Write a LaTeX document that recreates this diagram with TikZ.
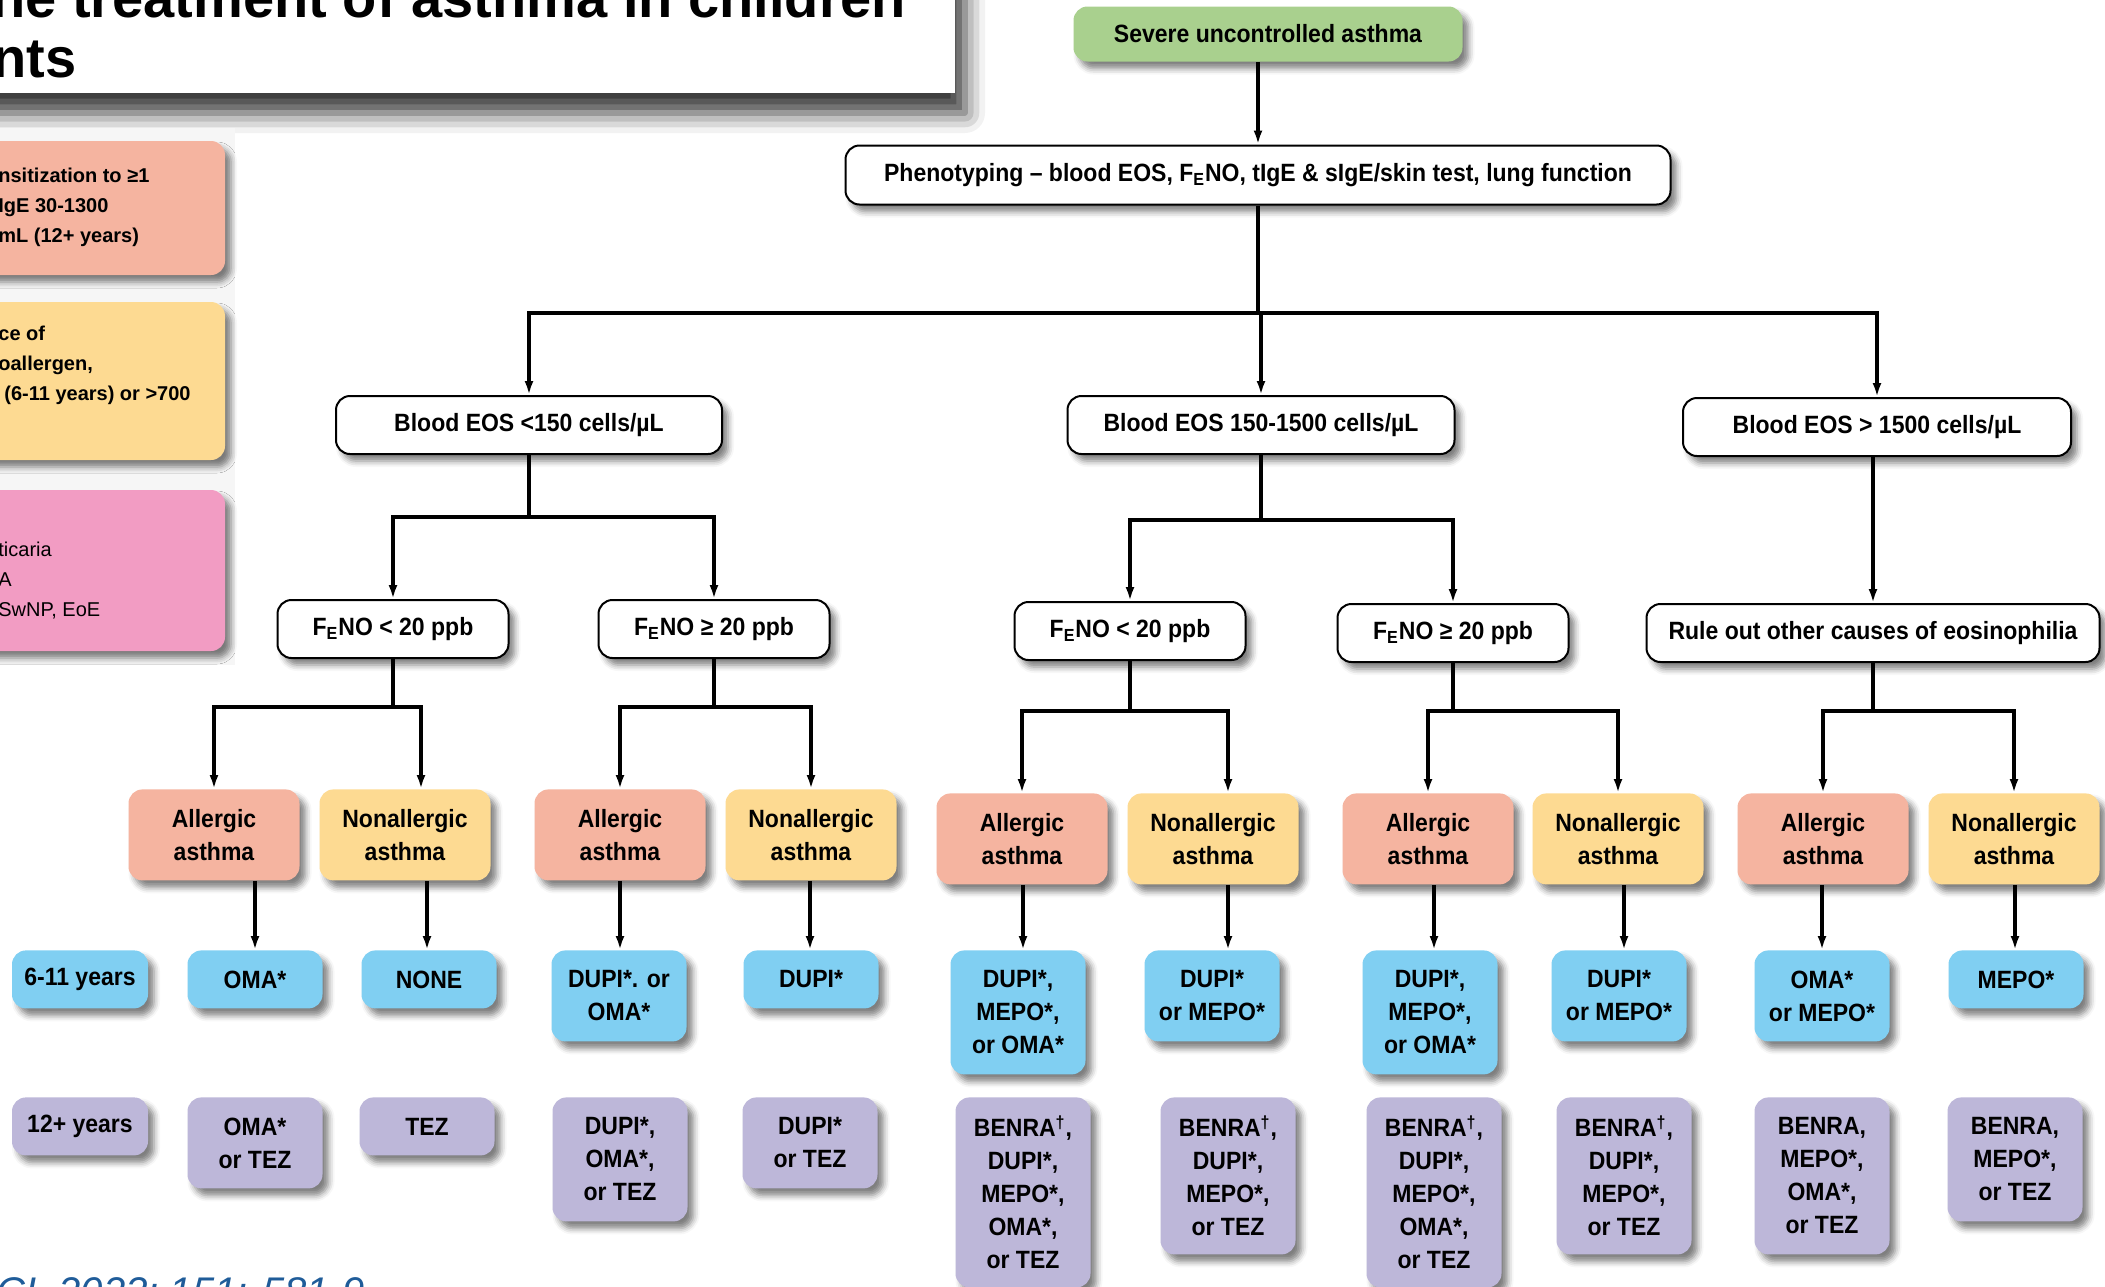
\documentclass[tikz,border=0pt]{standalone}
\usepackage{fontspec}
\setmainfont{Liberation Sans}
\newfontfamily\treefont{Liberation Sans}[FakeStretch=0.92, Ligatures=TeX]
\usetikzlibrary{positioning, arrows.meta, calc, shadows.blur}

\definecolor{allergicfill}{HTML}{F5B4A0}
\definecolor{nonallergicfill}{HTML}{FDDA92}
\definecolor{youngfill}{HTML}{80CFF2}
\definecolor{oldfill}{HTML}{BDB7D9}
\definecolor{startfill}{HTML}{A9D08E}
\definecolor{otherfill}{HTML}{F29CC3}
\definecolor{citeblue}{HTML}{1F5C99}
\definecolor{panelgray}{HTML}{F6F6F6}

\def\px{0.5pt}
\newcommand{\dagmark}{\textsuperscript{\textdagger}}
\newcommand{\feno}{F\textsubscript{E}NO}

\tikzset{
    soft/.style={blur shadow={shadow xshift=3pt, shadow yshift=-3.5pt,
        shadow blur radius=3pt, shadow opacity=50}},
    box/.style={rounded corners=7pt, align=center, inner sep=2pt, text=black,
        font=\treefont\bfseries\fontsize{12.5}{16.5}\selectfont, soft},
    question/.style={box, draw=black, line width=1pt, fill=white, minimum height=29pt},
    start/.style={box, fill=startfill, minimum width=194.5pt, minimum height=27.5pt},
    kind/.style={box, anchor=north, minimum width=85.5pt, minimum height=45.5pt},
    young/.style={box, fill=youngfill, anchor=north, minimum width=67.5pt},
    old/.style={box, fill=oldfill, anchor=north, minimum width=67.5pt},
    titletext/.style={inner sep=0, font=\bfseries\fontsize{28}{30}\selectfont},
    legend/.style={inner sep=0, align=left, font=\bfseries\fontsize{10}{15}\selectfont},
    link/.style={line width=1.6pt},
    flow/.style={link, -{Latex[length=7pt, width=4.5pt]}},
}

\begin{document}
\begin{tikzpicture}[x=\px, y=-\px]
    \useasboundingbox (0,0) rectangle (2105,1286);

    % title card
    \fill[white, blur shadow={shadow xshift=5pt, shadow yshift=-10pt,
        shadow blur radius=10pt, shadow opacity=80}] (-40,-40) rectangle (955,93);
    \node[titletext, anchor=base west] (title1) at (-9,17) {he treatment of asthma in children};
    \node[titletext, anchor=base west] (title2) at (-8,77) {nts};

    % legend boxes
    \fill[panelgray] (-10,128) rectangle (235,665);
    \fill[allergicfill, rounded corners=7pt, soft] (-40,141) rectangle (225,275);
    \fill[nonallergicfill, rounded corners=7pt, soft] (-40,302) rectangle (225,460);
    \fill[otherfill, rounded corners=7pt, soft] (-40,490) rectangle (225,651);
    \node[legend, anchor=north west] (sensitised) at (-2,168)
        {nsitization to ≥1\\IgE 30-1300\\mL (12+ years)};
    \node[legend, anchor=north west] (notsensitised) at (-2,326)
        {ce of\\oallergen,\\\hspace*{3pt}(6-11 years) or >700};
    \node[legend, anchor=north west, font=\fontsize{10}{15}\selectfont] (comorbid) at (-2,542)
        {ticaria\\A\\SwNP, EoE};

    % upper part of the tree
    \node[start] (start) at (1268,34) {Severe uncontrolled asthma};
    \node[question, minimum width=412.5pt, minimum height=29.5pt] (pheno) at (1258,175)
        {Phenotyping – blood EOS, \feno, tIgE \& sIgE/skin test, lung function};

    \node[question, minimum width=193pt] (eosA) at (529,425) {Blood EOS <150 cells/µL};
    \node[question, minimum width=193.5pt] (eosB) at (1261,425) {Blood EOS 150-1500 cells/µL};
    \node[question, minimum width=194pt] (eosC) at (1877,427) {Blood EOS > 1500 cells/µL};

    \node[question, minimum width=115.5pt] (fA1) at (393,629) {\feno{} < 20 ppb};
    \node[question, minimum width=115.5pt] (fA2) at (714,629) {\feno{} ≥ 20 ppb};
    \node[question, minimum width=115.5pt] (fB1) at (1130,631) {\feno{} < 20 ppb};
    \node[question, minimum width=115.5pt] (fB2) at (1453,633) {\feno{} ≥ 20 ppb};
    \node[question, minimum width=226.5pt] (rule) at (1873,633) {Rule out other causes of eosinophilia};

    % asthma types
    \foreach \i/\x/\y in {1/214/789, 3/620/789, 5/1022/793, 7/1428/793, 9/1823/793}
        \node[kind, fill=allergicfill] (kind\i) at (\x,\y) {Allergic\\asthma};
    \foreach \i/\x/\y in {2/405/789, 4/811/789, 6/1213/793, 8/1618/793, 10/2014/793}
        \node[kind, fill=nonallergicfill] (kind\i) at (\x,\y) {Nonallergic\\asthma};

    % treatments, 6-11 years
    \node[young, minimum width=68pt, minimum height=29pt] (youngLabel) at (80,950) {6-11 years};
    \foreach \i/\x/\nl/\txt in {
        1/255/1/{OMA*},
        2/429/1/{NONE},
        3/619/2/{DUPI*. or\\OMA*},
        4/811/1/{DUPI*},
        5/1018/3/{DUPI*,\\MEPO*,\\or OMA*},
        6/1212/2/{DUPI*\\or MEPO*},
        7/1430/3/{DUPI*,\\MEPO*,\\or OMA*},
        8/1619/2/{DUPI*\\or MEPO*},
        9/1822/2/{OMA*\\or MEPO*},
        10/2016/1/{MEPO*}}{
        \node[young, minimum height={12.5pt+16.5pt*\nl}] (young\i) at (\x,950) {\txt};
    }

    % treatments, 12+ years
    \node[old, minimum width=68pt, minimum height=29pt] (oldLabel) at (80,1097) {12+ years};
    \foreach \i/\x/\nl/\txt in {
        1/255/2/{OMA*\\or TEZ},
        2/427/1/{TEZ},
        3/620/3/{DUPI*,\\OMA*,\\or TEZ},
        4/810/2/{DUPI*\\or TEZ},
        5/1023/5/{BENRA\dagmark,\\DUPI*,\\MEPO*,\\OMA*,\\or TEZ},
        6/1228/4/{BENRA\dagmark,\\DUPI*,\\MEPO*,\\or TEZ},
        7/1434/5/{BENRA\dagmark,\\DUPI*,\\MEPO*,\\OMA*,\\or TEZ},
        8/1624/4/{BENRA\dagmark,\\DUPI*,\\MEPO*,\\or TEZ},
        9/1822/4/{BENRA,\\MEPO*,\\OMA*,\\or TEZ},
        10/2015/3/{BENRA,\\MEPO*,\\or TEZ}}{
        \node[old, minimum height={12.5pt+16.5pt*\nl}] (old\i) at (\x,1097) {\txt};
    }

    % connectors
    \draw[flow] (pheno.north |- start.south) -- (pheno.north);
    \draw[flow] (pheno.south) -- (pheno.south |- 0,313) -| (eosA.north);
    \draw[flow] (pheno.south |- 0,313) -| (eosC.north);
    \draw[flow] (eosB.north |- 0,313) -- (eosB.north);

    \foreach \parent/\l/\r/\yy in {eosA/fA1/fA2/517, eosB/fB1/fB2/520}{
        \draw[flow] (\parent.south) -- (\parent.south |- 0,\yy) -| (\l.north);
        \draw[flow] (\parent.south |- 0,\yy) -| (\r.north);
    }
    \draw[flow] (rule.north |- eosC.south) -- (rule.north);

    % forks into the asthma types, \dx moves the right arrow off centre
    \foreach \parent/\l/\r/\yy/\dx in {fA1/1/2/707/16, fA2/3/4/707/0, fB1/5/6/711/15,
        fB2/7/8/711/0, rule/9/10/711/0}{
        \draw[flow] (\parent.south) -- (\parent.south |- 0,\yy) -| (kind\l.north);
        \draw[flow] (\parent.south |- 0,\yy) -| ($(kind\r.north)+(\dx,0)$);
    }

    \foreach \i in {1,...,10}
        \draw[flow] (old\i.north |- kind\i.south) -- (old\i.north |- young\i.north);

    % reference line
    \node[inner sep=0, anchor=north west, text=citeblue,
        font=\itshape\fontsize{20}{24}\selectfont] (cite) at (-4,1277) {CI. 2023; 151: 581-9};
\end{tikzpicture}
\end{document}
